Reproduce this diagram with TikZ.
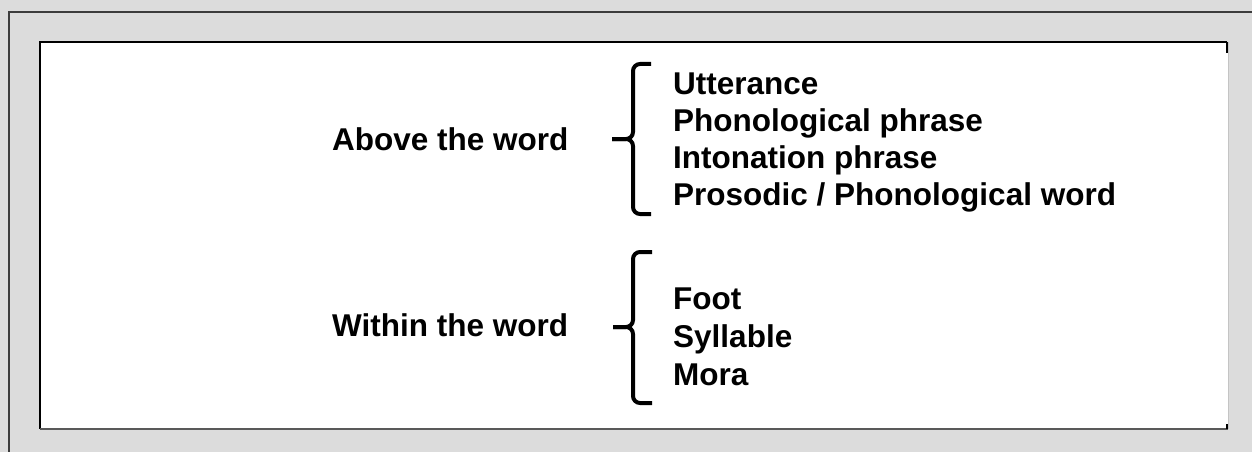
\documentclass[tikz,border=0pt]{standalone}
\usepackage{fontspec}
\setmainfont{Liberation Sans}
\definecolor{bggray}{HTML}{DCDCDC}
\definecolor{frame}{HTML}{3C3C3C}
\definecolor{edgegray}{HTML}{C4C4C4}
\begin{document}
\begin{tikzpicture}[x=1pt,y=-1pt,
  lbl/.style={anchor=base west,inner sep=0pt,font=\bfseries\fontsize{31.5}{37}\selectfont},
  bracepath/.style={line width=4pt,rounded corners=7pt},
]
\useasboundingbox (0,0) rectangle (1252,452);
% outer grey panel
\fill[bggray] (0,0) rectangle (1252,452);
\draw[frame,line width=2pt] (8.5,470) -- (8.5,12) -- (1270,12);
% inner white panel
\fill[white] (40,42) rectangle (1228,429);
\draw[black,line width=2pt] (1227,42) -- (40,42) -- (40,429);
\draw[edgegray,line width=1pt] (1228.3,42) -- (1228.3,429);
\draw[frame!85,line width=2pt] (40,428.5) -- (1227.5,428.5);
\draw[black,line width=1.5pt] (1227.2,42) -- (1227.2,53.5);
\draw[black,line width=1.5pt] (1227.2,424) -- (1227.2,429);
% left labels
\node[lbl] (above) at (332,150) {Above the word};
\node[lbl] (within) at (332,336) {Within the word};
% upper list
\node[lbl] (utt) at (673,94) {Utterance};
\node[lbl] (pph) at (673,131) {Phonological phrase};
\node[lbl] (iph) at (673,168) {Intonation phrase};
\node[lbl] (pw) at (673,205) {Prosodic / Phonological word};
% lower list
\node[lbl] (foot) at (673,309) {Foot};
\node[lbl] (syl) at (673,347) {Syllable};
\node[lbl] (mora) at (673,385) {Mora};
% braces
\draw[bracepath] (651,64) -- (633,64) -- (633,139) -- (612,139);
\draw[bracepath] (612,139) -- (633,139) -- (633,214) -- (651,214);
\draw[bracepath] (652,252) -- (633,252) -- (633,327) -- (613,327);
\draw[bracepath] (613,327) -- (633,327) -- (633,403) -- (652,403);
\end{tikzpicture}
\end{document}
